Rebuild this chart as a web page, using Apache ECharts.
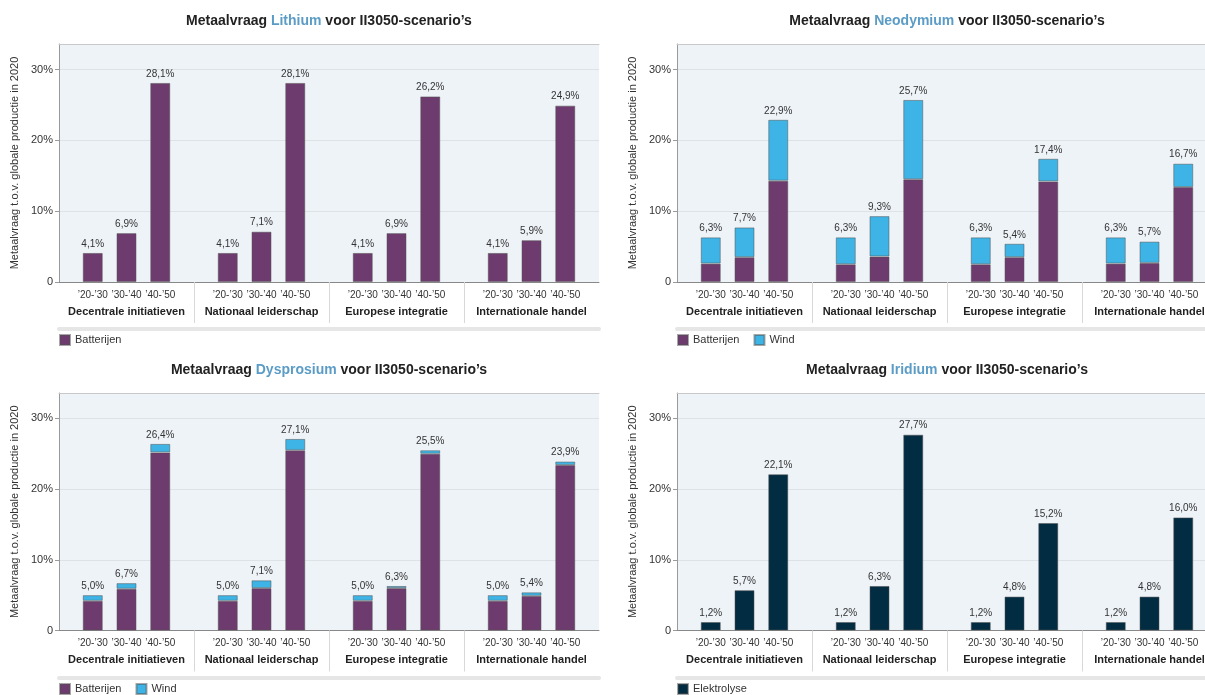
<!DOCTYPE html>
<html><head><meta charset="utf-8">
<script src="https://cdn.jsdelivr.net/npm/echarts@6/dist/echarts.min.js"></script>
<style>html,body{margin:0;padding:0;background:#fff;overflow:hidden;width:1205px;height:695px}#c{width:1230px;height:695px}</style>
</head><body><div id="c"></div>
<script>
const groups = ['Decentrale initiatieven', 'Nationaal leiderschap', 'Europese integratie', 'Internationale handel'];
const periods = ['’20-’30', '’30-’40', '’40-’50'];
const yAxisTitle = 'Metaalvraag t.o.v. globale productie in 2020';

const lithiumBatterijen   = [4.1, 6.9, 28.1, 4.1, 7.1, 28.1, 4.1, 6.9, 26.2, 4.1, 5.9, 24.9];
const neodymiumBatterijen = [2.6, 3.5, 14.3, 2.5, 3.6, 14.5, 2.5, 3.5, 14.2, 2.6, 2.7, 13.4];
const neodymiumWind       = [3.7, 4.2, 8.6, 3.8, 5.7, 11.2, 3.8, 1.9, 3.2, 3.7, 3.0, 3.3];
const dysprosiumBatterijen= [4.2, 5.9, 25.2, 4.2, 6.0, 25.5, 4.2, 6.0, 25.0, 4.2, 4.9, 23.4];
const dysprosiumWind      = [0.8, 0.8, 1.2, 0.8, 1.1, 1.6, 0.8, 0.3, 0.5, 0.8, 0.5, 0.5];
const iridiumElektrolyse  = [1.2, 5.7, 22.1, 1.2, 6.3, 27.7, 1.2, 4.8, 15.2, 1.2, 4.8, 16.0];

const PURPLE = '#6e3b6e', BLUE = '#3db4e5', NAVY = '#022c42';
const FONT = 'Liberation Sans, Arial, sans-serif';

const charts = [
  { metal: 'Lithium', left: 59, top: 44, h: 238, legendTop: 334,
    series: [{ name: 'Batterijen', data: lithiumBatterijen, color: PURPLE }] },
  { metal: 'Neodymium', left: 677, top: 44, h: 238, legendTop: 334,
    series: [{ name: 'Batterijen', data: neodymiumBatterijen, color: PURPLE },
             { name: 'Wind', data: neodymiumWind, color: BLUE }] },
  { metal: 'Dysprosium', left: 59, top: 393, h: 237.5, legendTop: 683,
    series: [{ name: 'Batterijen', data: dysprosiumBatterijen, color: PURPLE },
             { name: 'Wind', data: dysprosiumWind, color: BLUE }] },
  { metal: 'Iridium', left: 677, top: 393, h: 237.5, legendTop: 683,
    series: [{ name: 'Elektrolyse', data: iridiumElektrolyse, color: NAVY }] }
];

// 17 slots: a blank slot at each group border, three period slots per group
const slotLabels = [];
for (let s = 0; s <= 16; s++) slotLabels.push(s % 4 === 0 ? '' : periods[s % 4 - 1]);
const slotOf = j => Math.floor(j / 3) * 4 + (j % 3) + 1;
const fmt = v => v.toFixed(1).replace('.', ',') + '%';

const option = { animation: false, textStyle: { fontFamily: FONT },
  title: [], grid: [], xAxis: [], yAxis: [], series: [], legend: [] };

charts.forEach((c, i) => {
  const W = 540;
  option.title.push({
    text: '{n|Metaalvraag }{h|' + c.metal + '}{n| voor II3050-scenario’s}',
    left: c.left + W / 2, top: c.top - 30, textAlign: 'center', padding: 0,
    textStyle: { rich: {
      n: { fontSize: 14, fontWeight: 'bold', color: '#222', fontFamily: FONT },
      h: { fontSize: 14, fontWeight: 'bold', color: '#5b9cc6', fontFamily: FONT } } }
  });
  option.grid.push({ left: c.left, top: c.top, width: W, height: c.h, show: true,
    backgroundColor: '#eef3f8', borderWidth: 0 });
  option.yAxis.push({ type: 'value', gridIndex: i, min: 0, max: 33.6, interval: 10,
    name: yAxisTitle, nameLocation: 'middle', nameGap: 39,
    nameTextStyle: { fontSize: 11, color: '#333' },
    axisLine: { show: true, lineStyle: { color: '#9a9a9a' } },
    axisTick: { show: true, length: 4, lineStyle: { color: '#9a9a9a' } },
    axisLabel: { formatter: v => v === 0 ? '0' : v + '%', fontSize: 11, color: '#333', margin: 6, showMaxLabel: false },
    splitLine: { lineStyle: { color: '#dde2e7' } } });
  const base = i * 5;
  // main category axis with period labels
  option.xAxis.push({ type: 'category', gridIndex: i, data: slotLabels, boundaryGap: false, position: 'bottom',
    axisLine: { show: true, onZero: false, lineStyle: { color: '#888' } }, axisTick: { show: false },
    splitLine: { show: false },
    axisLabel: { interval: 0, fontSize: 10, color: '#333', margin: 8 } });
  // group labels
  option.xAxis.push({ type: 'value', gridIndex: i, min: 0, max: 16, interval: 2, position: 'bottom',
    axisLine: { show: false }, axisTick: { show: false }, splitLine: { show: false },
    axisLabel: { fontSize: 11, fontWeight: 'bold', color: '#222', margin: 24,
      formatter: v => v % 4 === 2 ? groups[(v - 2) / 4] : '' } });
  // group dividers
  option.xAxis.push({ type: 'value', gridIndex: i, min: 0, max: 16, interval: 4, position: 'bottom',
    axisLine: { show: false }, splitLine: { show: false }, axisLabel: { show: false },
    axisTick: { show: true, length: 41, customValues: [4, 8, 12], lineStyle: { color: '#d8d8d8' } } });
  // gray band below
  option.xAxis.push({ type: 'value', gridIndex: i, min: 0, max: 16, position: 'bottom', offset: 47,
    axisLine: { show: true, onZero: false, lineStyle: { color: '#e6e6e6', width: 4 } },
    axisTick: { show: false }, axisLabel: { show: false }, splitLine: { show: false } });
  // top border
  option.xAxis.push({ type: 'value', gridIndex: i, min: 0, max: 16, position: 'top',
    axisLine: { show: true, onZero: false, lineStyle: { color: '#c8c8c8' } },
    axisTick: { show: false }, axisLabel: { show: false }, splitLine: { show: false } });

  const stacked = c.series.length > 1;
  c.series.forEach((s, si) => {
    const isTop = si === c.series.length - 1;
    option.series.push({
      type: 'bar', name: s.name, xAxisIndex: base, yAxisIndex: i,
      stack: stacked ? 'total' + i : undefined,
      barWidth: 20,
      data: s.data.map((v, j) => [slotOf(j), v]),
      itemStyle: { color: s.color, borderColor: 'rgba(80,80,80,0.5)', borderWidth: 1 },
      label: { show: isTop, position: 'top', distance: 4, fontSize: 10, color: '#333',
        formatter: p => fmt(c.series.reduce((acc, ss) => acc + ss.data[p.dataIndex], 0)) },
      emphasis: { disabled: true }
    });
  });
  option.legend.push({ left: c.left, top: c.legendTop, padding: 0, icon: 'rect',
    itemWidth: 10, itemHeight: 10, itemGap: 14,
    textStyle: { fontSize: 11, color: '#333' },
    data: c.series.map(s => s.name) });
});

const chart = echarts.init(document.getElementById('c'), null, { renderer: 'canvas' });
chart.setOption(option);
</script>
</body></html>
